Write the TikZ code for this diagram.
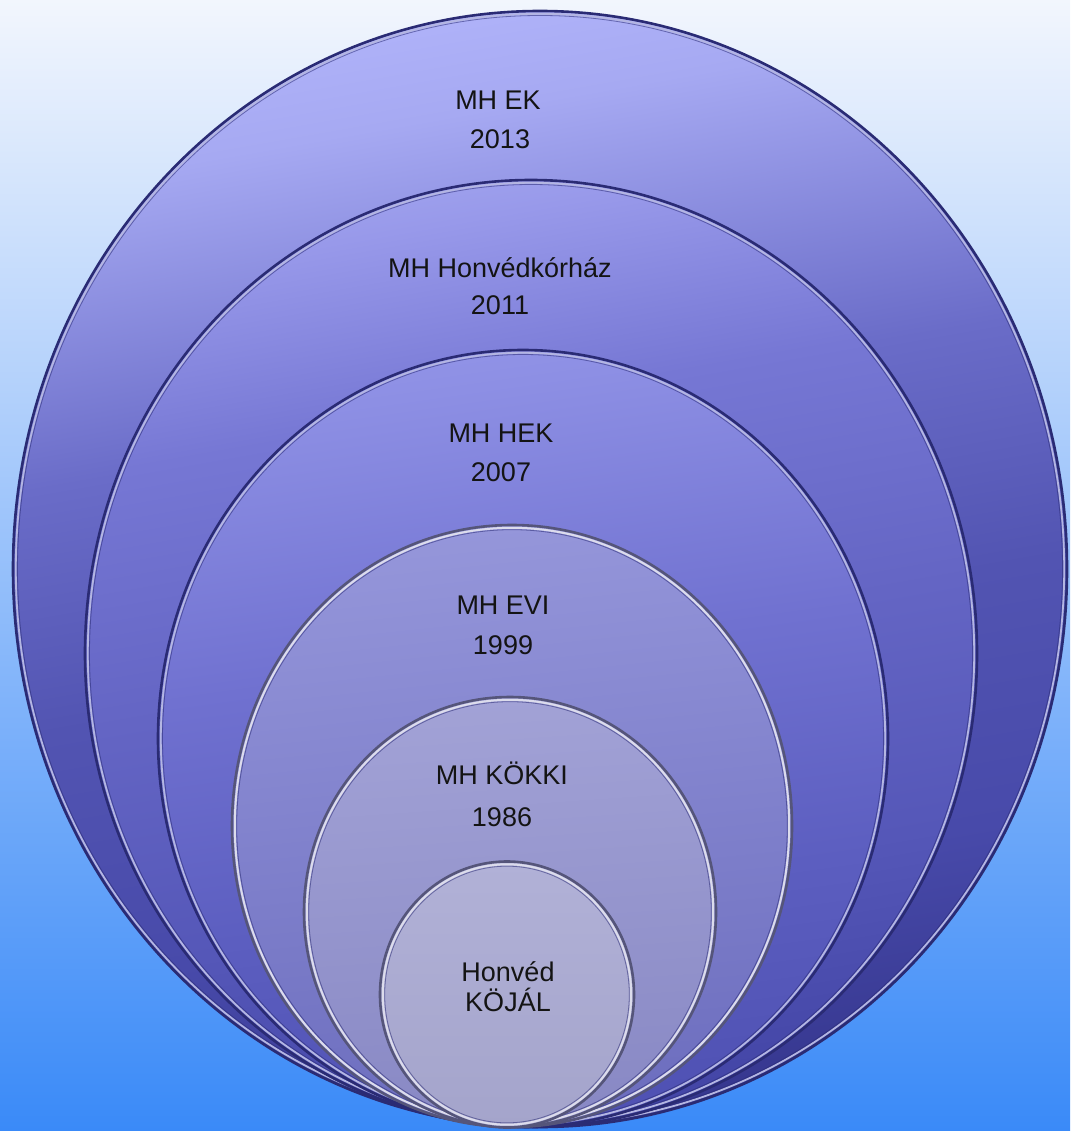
\documentclass[tikz,border=0pt]{standalone}
\usepackage{fontspec}
\setmainfont{Liberation Sans}
\usetikzlibrary{shapes.geometric}
\definecolor{bgtop}{HTML}{F2F6FD}
\definecolor{bgmid}{HTML}{A3C8FC}
\definecolor{bgbot}{HTML}{3A8AF8}
\definecolor{edgeA}{HTML}{2A2B74}
\definecolor{edgeB}{HTML}{55557A}
\definecolor{hlA}{HTML}{B4B6E2}
\definecolor{hlB}{HTML}{DCDCEC}
\pgfdeclareverticalshading{shOne}{100bp}{color(0bp)=(rgb,255:red,54;green,55;blue,143);
  color(25bp)=(rgb,255:red,54;green,55;blue,143);
  color(35bp)=(rgb,255:red,72;green,74;blue,170);
  color(46.5bp)=(rgb,255:red,82;green,84;blue,178);
  color(57.5bp)=(rgb,255:red,106;green,108;blue,200);
  color(71bp)=(rgb,255:red,166;green,169;blue,242);
  color(75bp)=(rgb,255:red,174;green,177;blue,248);
  color(100bp)=(rgb,255:red,174;green,177;blue,248)}
\pgfdeclareverticalshading{shTwo}{100bp}{color(0bp)=(rgb,255:red,67;green,69;blue,166);
  color(25bp)=(rgb,255:red,67;green,69;blue,166);
  color(37bp)=(rgb,255:red,85;green,87;blue,184);
  color(50bp)=(rgb,255:red,100;green,101;blue,196);
  color(63.5bp)=(rgb,255:red,118;green,119;blue,212);
  color(73.5bp)=(rgb,255:red,152;green,153;blue,234);
  color(75bp)=(rgb,255:red,156;green,158;blue,236);
  color(100bp)=(rgb,255:red,156;green,158;blue,236)}
\pgfdeclareverticalshading{shThree}{100bp}{color(0bp)=(rgb,255:red,79;green,81;blue,179);
  color(25bp)=(rgb,255:red,79;green,81;blue,179);
  color(39.5bp)=(rgb,255:red,92;green,94;blue,192);
  color(55.5bp)=(rgb,255:red,112;green,113;blue,208);
  color(73bp)=(rgb,255:red,141;green,143;blue,228);
  color(75bp)=(rgb,255:red,144;green,146;blue,230);
  color(100bp)=(rgb,255:red,144;green,146;blue,230)}
\pgfdeclareverticalshading{shFour}{100bp}{color(0bp)=(rgb,255:red,108;green,109;blue,190);
  color(25bp)=(rgb,255:red,108;green,109;blue,190);
  color(50bp)=(rgb,255:red,128;green,129;blue,204);
  color(75bp)=(rgb,255:red,149;green,150;blue,218);
  color(100bp)=(rgb,255:red,149;green,150;blue,218)}
\pgfdeclareverticalshading{shFive}{100bp}{color(0bp)=(rgb,255:red,136;green,136;blue,196);
  color(25bp)=(rgb,255:red,136;green,136;blue,196);
  color(75bp)=(rgb,255:red,162;green,162;blue,214);
  color(100bp)=(rgb,255:red,162;green,162;blue,214)}
\pgfdeclareverticalshading{shSix}{100bp}{color(0bp)=(rgb,255:red,164;green,164;blue,203);
  color(25bp)=(rgb,255:red,164;green,164;blue,203);
  color(75bp)=(rgb,255:red,177;green,177;blue,215);
  color(100bp)=(rgb,255:red,177;green,177;blue,215)}
\begin{document}
\begin{tikzpicture}[x=1pt,y=-1pt,
  ring/.style={ellipse, inner sep=0pt, line width=2.6pt},
  darkring/.style={ring, draw=edgeA},
  greyring/.style={ring, draw=edgeB},
  hiline/.style={line width=1.8pt, draw=hlA},
  hilineB/.style={line width=2pt, draw=hlB},
  shadeline/.style={line width=0.8pt, draw=edgeA, opacity=0.55},
  lbl/.style={font=\fontsize{27}{31}\selectfont, text=black!92, inner sep=0pt,
              text height=19.3pt, text depth=0pt, anchor=center}
]
\useasboundingbox (0,0) rectangle (1070,1131);
\shade[top color=bgtop, middle color=bgmid, bottom color=bgbot] (0,0) rectangle (1070,1131);

% ring 1 (outer)
\node[darkring, shade, shading=shOne, shading angle=10,
      minimum width=1054pt, minimum height=1116pt] (r1) at (540,569) {};
\draw[hiline] (r1.center) ellipse [x radius=524.2, y radius=555.2];
\draw[shadeline] (r1.center) ellipse [x radius=522.5, y radius=553.5];
% ring 2
\node[darkring, shade, shading=shTwo, shading angle=10,
      minimum width=892pt, minimum height=947pt] (r2) at (531,653.5) {};
\draw[hiline] (r2.center) ellipse [x radius=443.2, y radius=470.7];
\draw[shadeline] (r2.center) ellipse [x radius=441.5, y radius=469];
% ring 3
\node[darkring, shade, shading=shThree, shading angle=8,
      minimum width=730pt, minimum height=777pt] (r3) at (523,738.5) {};
\draw[hiline] (r3.center) ellipse [x radius=362.2, y radius=385.7];
\draw[shadeline] (r3.center) ellipse [x radius=360.5, y radius=384];
% ring 4
\node[greyring, shade, shading=shFour, shading angle=6,
      minimum width=560pt, minimum height=602pt] (r4) at (512,826) {};
\draw[hilineB] (r4.center) ellipse [x radius=277.2, y radius=298.2];
\draw[shadeline] (r4.center) ellipse [x radius=275.3, y radius=296.3];
% ring 5
\node[greyring, shade, shading=shFive, shading angle=4,
      minimum width=412pt, minimum height=430pt] (r5) at (510,912) {};
\draw[hilineB] (r5.center) ellipse [x radius=203.2, y radius=212.2];
\draw[shadeline] (r5.center) ellipse [x radius=201.3, y radius=210.3];
% ring 6
\node[greyring, shade, shading=shSix,
      minimum width=254pt, minimum height=266pt] (r6) at (507,994.5) {};
\draw[hilineB] (r6.center) ellipse [x radius=124.2, y radius=130.2];
\draw[shadeline] (r6.center) ellipse [x radius=122.3, y radius=128.3];

% labels
\node[lbl] (a1) at (498,100) {MH EK};
\node[lbl] (b1) at (500,139) {2013};
\node[lbl] (a2) at (500,268) {MH Honvédkórház};
\node[lbl] (b2) at (500,305) {2011};
\node[lbl] (a3) at (501,433) {MH HEK};
\node[lbl] (b3) at (501,472) {2007};
\node[lbl] (a4) at (503,605) {MH EVI};
\node[lbl] (b4) at (503,645) {1999};
\node[lbl] (a5) at (502,775) {MH KÖKKI};
\node[lbl] (b5) at (502,817) {1986};
\node[lbl] (a6) at (508,972) {Honvéd};
\node[lbl] (b6) at (508,1002) {KÖJÁL};
\end{tikzpicture}
\end{document}
